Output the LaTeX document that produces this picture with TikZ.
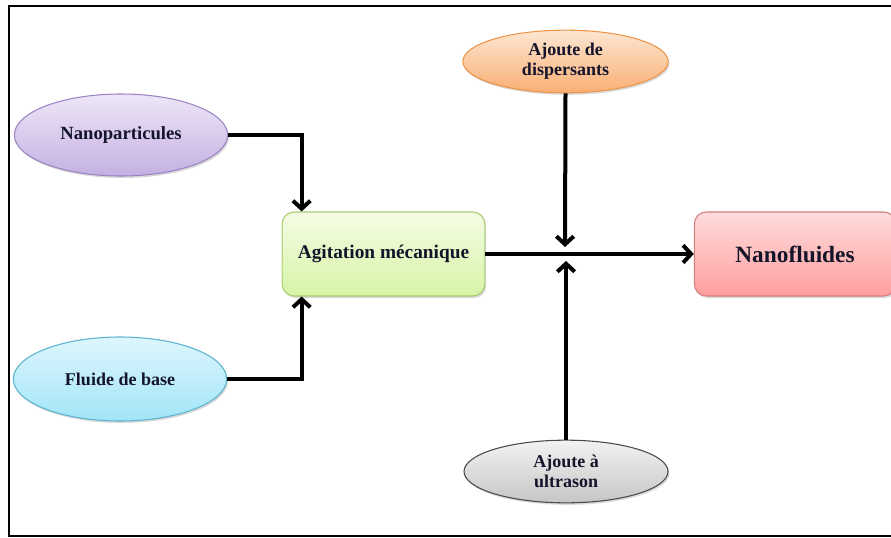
\documentclass[tikz,border=0pt]{standalone}
\usepackage{fontspec}
\setmainfont{Liberation Serif}
\usetikzlibrary{arrows.meta,shapes.geometric,shadows}
\definecolor{npT}{HTML}{EEE6F7}\definecolor{npB}{HTML}{C4B0E2}\definecolor{npD}{HTML}{9A84C4}
\definecolor{fbT}{HTML}{DDF6FD}\definecolor{fbB}{HTML}{A2E5F8}\definecolor{fbD}{HTML}{5BB3CF}
\definecolor{agT}{HTML}{F4FCE4}\definecolor{agB}{HTML}{D6F4A6}\definecolor{agD}{HTML}{A9CC72}
\definecolor{dsT}{HTML}{FDE6D2}\definecolor{dsB}{HTML}{F9AF74}\definecolor{dsD}{HTML}{EE9448}
\definecolor{usT}{HTML}{F2F2F2}\definecolor{usB}{HTML}{C6C6C6}\definecolor{usD}{HTML}{4A4A4A}
\definecolor{nfT}{HTML}{FFDCDC}\definecolor{nfB}{HTML}{FF9E9E}\definecolor{nfD}{HTML}{D47E7E}
\definecolor{txt}{HTML}{14142A}
\tikzset{
  shbox/.style={drop shadow={opacity=0.3,shadow xshift=1pt,shadow yshift=-1.5pt}},
  oval/.style={ellipse,shbox,line width=0.8pt,text=txt,font=\bfseries\fontsize{13.5}{15}\selectfont,align=center,inner sep=0pt},
  rbox/.style={rectangle,rounded corners=9pt,shbox,line width=0.8pt,text=txt,font=\bfseries\fontsize{14.5}{16}\selectfont,align=center},
  conn/.style={line width=3pt,-{Straight Barb[length=6pt,width=13pt,line width=3pt]}},
  plain/.style={line width=3pt}
}
\begin{document}
\begin{tikzpicture}[x=0.75pt,y=-0.75pt]
\useasboundingbox (0,0) rectangle (891,538);
\draw[line width=2.2pt] (900,6) -- (9,6) -- (9,536) -- (900,536);
\node[oval,draw=npD,top color=npT,bottom color=npB,minimum width=160pt,minimum height=61.5pt,font=\bfseries\fontsize{14}{16}\selectfont] (np) at (121,135) {Nanoparticules};
\node[oval,draw=fbD,top color=fbT,bottom color=fbB,minimum width=160pt,minimum height=63pt] (fb) at (120,379) {Fluide de base};
\node[rbox,draw=agD,top color=agT,bottom color=agB,minimum width=152pt,minimum height=63pt] (ag) at (383.5,254) {Agitation mécanique};
\node[oval,draw=dsD,top color=dsT,bottom color=dsB,minimum width=154pt,minimum height=47pt] (ds) at (565.5,61.5) {Ajoute de\\dispersants};
\node[oval,draw=usD,top color=usT,bottom color=usB,minimum width=153pt,minimum height=47pt] (us) at (566,471.5) {Ajoute à\\ultrason};
\node[rbox,draw=nfD,top color=nfT,bottom color=nfB,minimum width=151pt,minimum height=63pt,font=\bfseries\fontsize{17.5}{19}\selectfont] (nf) at (795,254) {Nanofluides};
\coordinate (j1) at (565,247);
\coordinate (j2) at (566,261);
\draw[conn] (np.east) -| ([xshift=15pt]ag.north west);
\draw[conn] (fb.east) -| ([xshift=15pt]ag.south west);
\draw[conn] (ag.east) -- (nf.west);
\draw[conn] (ds.south) -- (j1);
\draw[conn] (us.north) -- (j2);
\end{tikzpicture}
\end{document}
